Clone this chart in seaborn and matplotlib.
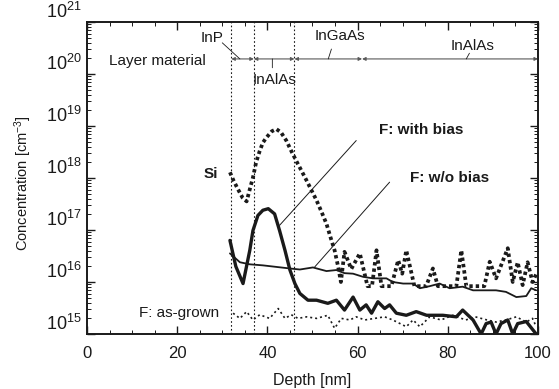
import numpy as np
import pandas as pd
import matplotlib
matplotlib.use("Agg")
import matplotlib.pyplot as plt
import matplotlib.transforms as mtransforms
from matplotlib.ticker import MultipleLocator, LogLocator, NullFormatter
import seaborn as sns

# --- DATA (concentration as log10 [cm^-3]) ---
si_depth = [31.7, 32.5, 33.5, 34.5, 35.4, 36.0, 36.8, 37.5, 38.3, 39.0,
            39.8, 41.0, 42.0, 43.0, 44.2, 45.3, 46.4, 47.5, 48.7, 49.8,
            50.9, 52.0, 53.1, 54.0, 54.9, 55.7, 56.3, 57.1, 58.6, 60.5,
            62.2, 63.2, 64.2, 65.3, 67.5, 69.0, 69.9, 70.8, 72.6, 75.2,
            76.7, 77.8, 81.9, 83.0, 84.1, 88.1, 89.3, 90.7, 93.3, 94.4,
            95.5, 96.6, 97.7, 98.8, 99.6]
si_log = [18.11, 17.95, 17.78, 17.62, 17.55, 17.75, 18.01, 18.30, 18.52, 18.68,
          18.78, 18.90, 18.94, 18.88, 18.72, 18.52, 18.33, 18.15, 17.95, 17.76,
          17.57, 17.35, 17.12, 16.86, 16.61, 16.29, 16.00, 16.58, 16.25, 16.55,
          15.92, 15.92, 16.61, 15.92, 15.92, 16.42, 16.16, 16.61, 15.92, 15.92,
          16.26, 15.92, 15.92, 16.61, 15.92, 15.92, 16.39, 16.07, 16.65, 16.00,
          16.38, 15.94, 16.38, 16.00, 16.15]

bias_depth = [31.7, 33.0, 34.6, 36.1, 36.8, 37.9, 39.0, 40.2, 41.6, 42.7,
              43.9, 45.0, 46.1, 47.2, 49.0, 50.9, 53.4, 55.3, 57.1, 59.0,
              60.5, 61.9, 63.1, 64.5, 66.0, 67.1, 68.6, 70.8, 73.0, 75.3,
              78.9, 81.9, 83.3, 85.6, 87.4, 88.5, 89.6, 90.7, 91.8, 93.3,
              94.4, 95.5, 97.4, 99.6]
bias_log = [16.80, 16.30, 15.97, 16.61, 16.99, 17.28, 17.38, 17.41, 17.31, 16.99,
            16.61, 16.23, 15.97, 15.78, 15.65, 15.65, 15.59, 15.65, 15.46, 15.71,
            15.46, 15.56, 15.40, 15.62, 15.49, 15.56, 15.40, 15.36, 15.43, 15.36,
            15.36, 15.33, 15.46, 15.27, 15.00, 15.20, 15.23, 15.00, 15.20, 15.27,
            15.00, 15.20, 15.24, 15.00]

nobias_depth = [31.7, 33.9, 36.1, 39.0, 42.0, 45.0, 47.2, 50.1, 53.1, 55.3,
                57.1, 59.0, 61.2, 63.4, 66.4, 67.8, 70.1, 72.3, 73.8, 76.0,
                78.2, 80.4, 83.3, 85.6, 88.0, 90.7, 92.9, 95.2, 97.4, 98.5,
                99.6]
nobias_log = [16.55, 16.38, 16.34, 16.32, 16.29, 16.26, 16.24, 16.28, 16.21, 16.23,
              16.17, 16.16, 16.10, 16.07, 16.07, 16.00, 15.97, 15.97, 15.88, 15.92,
              15.97, 15.88, 15.91, 15.84, 15.84, 15.84, 15.81, 15.71, 15.73, 15.88,
              15.84]

grown_depth = [32.4, 33.9, 35.4, 36.8, 38.3, 40.5, 42.4, 43.9, 45.3, 46.8,
               48.7, 50.9, 53.4, 54.9, 56.4, 58.3, 59.7, 61.6, 63.8, 66.0,
               67.8, 70.8, 72.3, 73.8, 76.0, 78.5, 81.1, 84.0, 86.1, 88.7,
               90.7, 92.9, 95.2, 97.4, 98.8, 99.6]
grown_log = [15.40, 15.30, 15.43, 15.27, 15.37, 15.30, 15.49, 15.30, 15.37, 15.30,
             15.33, 15.30, 15.36, 15.11, 15.30, 15.27, 15.33, 15.27, 15.30, 15.33,
             15.27, 15.14, 15.27, 15.14, 15.33, 15.27, 15.36, 15.27, 15.33, 15.27,
             15.23, 15.27, 15.33, 15.23, 15.30, 15.14]

# layer structure
layer_edges = [32, 37, 46, 61, 100]
layer_names = ["InP", "InAlAs", "InGaAs", "InAlAs"]
interfaces = [32, 37, 46]

# --- STYLE ---
sns.set_style("ticks")
plt.rcParams["font.family"] = ["Liberation Sans", "DejaVu Sans"]
plt.rcParams["mathtext.default"] = "regular"
ink = "#1a1a1a"

fig = plt.figure(figsize=(5.59, 3.89), dpi=100)
ax = fig.add_axes([0.1556, 0.1414, 0.8068, 0.802])


def profile(depth, logc):
    return pd.DataFrame({"depth": depth, "conc": 10.0 ** np.array(logc)})


# interfaces
for x in interfaces:
    ax.axvline(x, color=ink, lw=0.8, ls=(0, (1.5, 2)))

sns.lineplot(data=profile(si_depth, si_log), x="depth", y="conc", ax=ax,
             color=ink, lw=2.7, ls=(0, (0.9, 0.8)), estimator=None, sort=False)
sns.lineplot(data=profile(bias_depth, bias_log), x="depth", y="conc", ax=ax,
             color=ink, lw=2.4, estimator=None, sort=False)
sns.lineplot(data=profile(nobias_depth, nobias_log), x="depth", y="conc", ax=ax,
             color=ink, lw=1.3, estimator=None, sort=False)
sns.lineplot(data=profile(grown_depth, grown_log), x="depth", y="conc", ax=ax,
             color=ink, lw=1.2, ls=(0, (1.2, 1.8)), estimator=None, sort=False)

ax.set_yscale("log")
ax.set_xlim(0, 100)
ax.set_ylim(1e15, 1e21)

# --- layer material bar ---
bar_y = 10 ** 20.29
for a, b in zip(layer_edges[:-1], layer_edges[1:]):
    ax.annotate("", xy=(a, bar_y), xytext=(b, bar_y),
                arrowprops=dict(arrowstyle="<|-|>", mutation_scale=5, lw=0.8,
                                color="0.35", shrinkA=0, shrinkB=0))
ax.text(15.6, 10 ** 20.25, "Layer material", fontsize=11, color=ink,
        ha="center", va="center")

lay_fs = 11
ax.text(27.8, 10 ** 20.69, layer_names[0], fontsize=lay_fs, color=ink, ha="center", va="center")
ax.annotate("", xy=(33.9, bar_y), xytext=(30.0, 10 ** 20.60),
            arrowprops=dict(arrowstyle="-", lw=0.6, color=ink, shrinkA=0, shrinkB=0))
ax.text(41.6, 10 ** 19.88, layer_names[1], fontsize=lay_fs, color=ink, ha="center", va="center")
ax.annotate("", xy=(41.1, bar_y), xytext=(41.1, 10 ** 20.12),
            arrowprops=dict(arrowstyle="-", lw=0.6, color=ink, shrinkA=0, shrinkB=0))
ax.text(56.0, 10 ** 20.73, layer_names[2], fontsize=lay_fs, color=ink, ha="center", va="center")
ax.annotate("", xy=(53.5, bar_y), xytext=(54.2, 10 ** 20.48),
            arrowprops=dict(arrowstyle="-", lw=0.6, color=ink, shrinkA=0, shrinkB=0))
ax.text(85.4, 10 ** 20.54, layer_names[3], fontsize=lay_fs, color=ink, ha="center", va="center")
ax.annotate("", xy=(84.1, bar_y), xytext=(84.8, 10 ** 20.40),
            arrowprops=dict(arrowstyle="-", lw=0.6, color=ink, shrinkA=0, shrinkB=0))

# --- curve labels ---
ax.text(27.5, 10 ** 18.08, "Si", fontsize=11, fontweight="bold", color=ink,
        ha="center", va="center")
ax.text(74.0, 10 ** 18.93, "F: with bias", fontsize=11, fontweight="bold",
        color=ink, ha="center", va="center")
ax.annotate("", xy=(42.7, 10 ** 17.09), xytext=(59.7, 10 ** 18.72),
            arrowprops=dict(arrowstyle="-", lw=0.7, color=ink, shrinkA=0, shrinkB=0))
ax.text(80.4, 10 ** 18.00, "F: w/o bias", fontsize=11, fontweight="bold",
        color=ink, ha="center", va="center")
ax.annotate("", xy=(50.5, 10 ** 16.29), xytext=(67.1, 10 ** 17.92),
            arrowprops=dict(arrowstyle="-", lw=0.7, color=ink, shrinkA=0, shrinkB=0))
ax.text(20.5, 10 ** 15.40, "F: as-grown", fontsize=11, color=ink,
        ha="center", va="center")

# --- axes, ticks ---
ax.set_xlabel("Depth [nm]", fontsize=11.5, color=ink, labelpad=8)
ax.set_ylabel("Concentration [cm$^{-3}$]", fontsize=10.5, color=ink)
ax.yaxis.set_label_coords(-0.118, 0.485)
ax.xaxis.set_major_locator(MultipleLocator(20))
ax.xaxis.set_minor_locator(MultipleLocator(5))
ax.set_yticks([1e15, 1e16, 1e17, 1e18, 1e19, 1e20, 1e21])
ax.yaxis.set_minor_locator(LogLocator(base=10, subs=np.arange(2, 10)))
ax.yaxis.set_minor_formatter(NullFormatter())
ax.tick_params(which="both", direction="in", top=True, right=True,
               color=ink, labelcolor=ink)
ax.tick_params(which="major", length=6, width=1.0)
ax.tick_params(which="minor", length=3, width=0.7)
ax.tick_params(axis="x", labelsize=12, pad=9)
ax.tick_params(axis="y", labelsize=13, pad=4)
for s in ax.spines.values():
    s.set_linewidth(1.4)
    s.set_color(ink)

# tick labels sit a little above their ticks in the original
shift = mtransforms.ScaledTranslation(0, 0.12, fig.dpi_scale_trans)
for lab in ax.get_yticklabels():
    lab.set_transform(lab.get_transform() + shift)

fig.savefig("out.png", dpi=100)
